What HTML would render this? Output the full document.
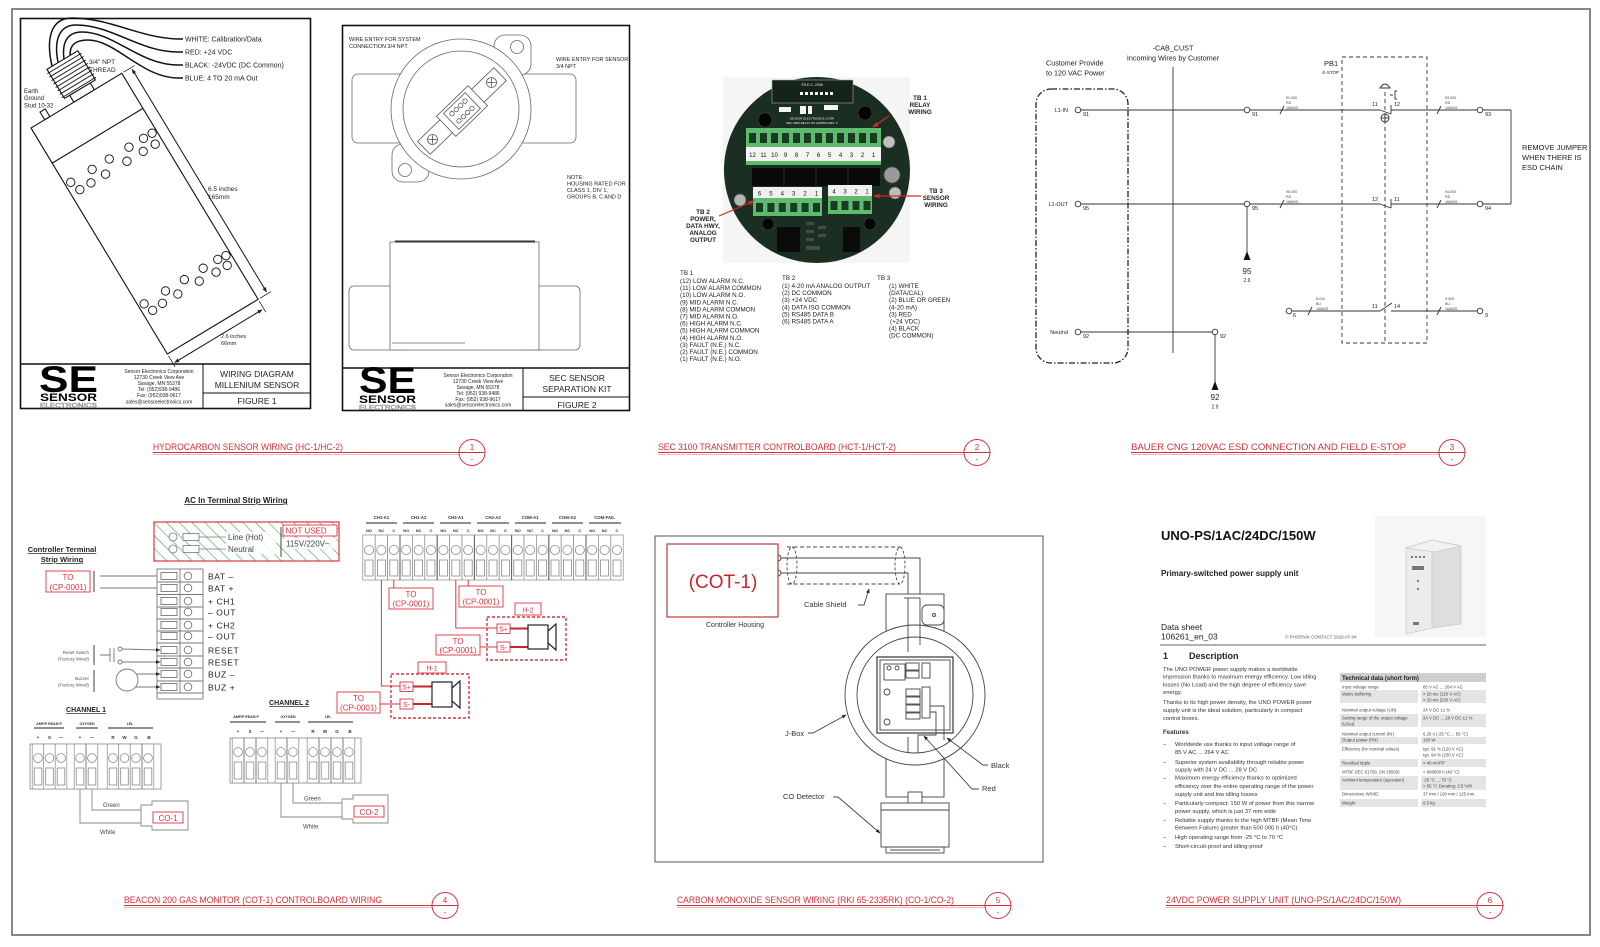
<!DOCTYPE html>
<html><head><meta charset="utf-8">
<style>
html,body{margin:0;padding:0;background:#fff;}
svg{display:block;}
text{font-family:"Liberation Sans",Arial,sans-serif;}
.serif{font-family:"Liberation Serif","Times New Roman",serif;}
</style></head><body>
<svg width="1600" height="947" viewBox="0 0 1600 947" xmlns="http://www.w3.org/2000/svg">
<defs>
<pattern id="hatch" patternUnits="userSpaceOnUse" width="9" height="9" patternTransform="rotate(-45)">
<line x1="0" y1="0" x2="0" y2="9" stroke="#3aa64a" stroke-width="1.2"/>
</pattern>
<marker id="ar" viewBox="0 0 10 10" refX="9" refY="5" markerWidth="5" markerHeight="5" orient="auto-start-reverse"><path d="M0,1 L10,5 L0,9 z" fill="#222"/></marker>
<marker id="arR" viewBox="0 0 10 10" refX="9" refY="5" markerWidth="5" markerHeight="5" orient="auto"><path d="M0,1 L10,5 L0,9 z" fill="#d42a2a"/></marker>
<g id="cell">
<rect x="-6.2" y="0" width="12.4" height="45" fill="#fff" stroke="#888" stroke-width="0.7"/>
<circle cx="0" cy="15" r="4.6" fill="none" stroke="#888" stroke-width="0.8"/>
<rect x="-4" y="25" width="8" height="16" fill="none" stroke="#888" stroke-width="0.8"/>
</g>
<g id="cell2">
<rect x="-5.8" y="0" width="11.6" height="45" fill="#fff" stroke="#888" stroke-width="0.7"/>
<circle cx="0" cy="14" r="4.4" fill="none" stroke="#888" stroke-width="0.8"/>
<rect x="-3.8" y="24" width="7.6" height="17" fill="none" stroke="#888" stroke-width="0.8"/>
</g>
</defs>

<rect x="0" y="0" width="1600" height="947" fill="#fff"/>
<rect x="12" y="9" width="1578" height="926" fill="none" stroke="#6a6a6a" stroke-width="1.6"/>

<!-- ================= PANEL 1 ================= -->
<g fill="none" stroke="#111">
<rect x="20.5" y="18.5" width="290" height="390" stroke-width="1.6"/>
<line x1="20" y1="364" x2="311" y2="364" stroke-width="1.4"/>
<line x1="203" y1="364" x2="203" y2="408"/>
<line x1="203" y1="393" x2="311" y2="393"/>
</g>
<text x="39" y="392" font-size="37" font-weight="bold" textLength="59" lengthAdjust="spacingAndGlyphs" fill="#000">SE</text>
<text x="40" y="401" font-size="11" font-weight="bold" textLength="57" lengthAdjust="spacingAndGlyphs" fill="#000">SENSOR</text>
<text x="40" y="407.5" font-size="6.5" textLength="57" lengthAdjust="spacingAndGlyphs" fill="#fff" stroke="#555" stroke-width="0.3">ELECTRONICS</text>
<g font-size="5" fill="#222" text-anchor="middle">
<text x="159" y="373">Sensor Electronics Corporation</text>
<text x="159" y="379">12730 Creek View Ave</text>
<text x="159" y="385">Savage, MN 55378</text>
<text x="159" y="391">Tel: (952)938-9486</text>
<text x="159" y="397">Fax: (952)938-9617</text>
<text x="159" y="403.5">sales@sensorelectronics.com</text>
</g>
<g font-size="8.5" fill="#222" text-anchor="middle">
<text x="257" y="377">WIRING DIAGRAM</text>
<text x="257" y="388">MILLENIUM SENSOR</text>
<text x="257" y="404">FIGURE 1</text>
</g>
<g fill="none" stroke="#111" stroke-width="1.5">
<path d="M52,66 C46,40 50,18 72,18 C110,18 140,38 178,39 H183"/>
<path d="M58,62 C54,42 58,25 76,25 C112,25 140,52 178,52 H183"/>
<path d="M64,59 C62,44 66,32 82,32 C114,32 140,65 178,65 H183"/>
<path d="M70,55 C70,46 74,40 88,40 C116,40 142,78 178,78 H183"/>
</g>
<g font-size="7" fill="#222">
<text x="185" y="41.5">WHITE: Calibration/Data</text>
<text x="185" y="54.5">RED:  +24 VDC</text>
<text x="185" y="67.5">BLACK:  -24VDC (DC Common)</text>
<text x="185" y="80.5">BLUE:  4 TO 20 mA Out</text>
</g>
<g transform="translate(31,128) rotate(-31.1)" fill="none" stroke="#111" stroke-width="1.1">
<rect x="0" y="0" width="106" height="264" fill="#fff"/>
<line x1="0" y1="41" x2="106" y2="41"/>
<rect x="50" y="-8" width="24" height="8" fill="#fff"/>
<rect x="44" y="-42" width="36" height="34" fill="#fff"/>
<g stroke-width="0.9">
<path d="M42,-38 H82 M42,-34 H82 M42,-30 H82 M42,-26 H82 M42,-22 H82 M42,-18 H82 M42,-14 H82 M42,-10 H82"/>
</g>
<rect x="16" y="-9" width="6" height="9"/>
<g stroke-width="0.9">
<circle cx="6" cy="67" r="4.2"/><circle cx="31" cy="67" r="4.2"/><circle cx="51" cy="67" r="4.2"/><circle cx="74" cy="67" r="4.2"/><circle cx="91" cy="67" r="4.2"/><circle cx="101" cy="67" r="4.2"/>
<circle cx="10" cy="78" r="4.2"/><circle cx="23" cy="78" r="4.2"/><circle cx="40" cy="78" r="4.2"/><circle cx="65" cy="78" r="4.2"/><circle cx="84" cy="78" r="4.2"/><circle cx="98" cy="78" r="4.2"/>
<circle cx="6" cy="209" r="4.2"/><circle cx="31" cy="209" r="4.2"/><circle cx="53" cy="209" r="4.2"/><circle cx="75" cy="209" r="4.2"/><circle cx="92" cy="209" r="4.2"/><circle cx="101" cy="210" r="4.2"/>
<circle cx="10" cy="219" r="4.2"/><circle cx="22" cy="218" r="4.2"/><circle cx="40" cy="218" r="4.2"/><circle cx="65" cy="218" r="4.2"/><circle cx="84" cy="219" r="4.2"/><circle cx="97" cy="219" r="4.2"/>
</g>
<line x1="117" y1="2" x2="117" y2="262" marker-start="url(#ar)" marker-end="url(#ar)" stroke-width="1"/>
<line x1="108" y1="0" x2="121" y2="0" stroke-width="0.7"/>
<line x1="108" y1="264" x2="121" y2="264" stroke-width="0.7"/>
<line x1="2" y1="275" x2="104" y2="275" marker-start="url(#ar)" marker-end="url(#ar)" stroke-width="1"/>
<line x1="0" y1="266" x2="0" y2="279" stroke-width="0.7"/>
<line x1="106" y1="266" x2="106" y2="279" stroke-width="0.7"/>
</g>
<g font-size="6.5" fill="#222">
<text x="89" y="64">3/4" NPT</text>
<text x="89" y="72">THREAD</text>
<text x="24" y="93" font-size="6">Earth</text>
<text x="24" y="100" font-size="6">Ground</text>
<text x="24" y="107.5" font-size="6">Stud 10-32</text>
<text x="208" y="191">6.5 inches</text>
<text x="208" y="199">165mm</text>
<text x="221" y="338" font-size="5.5">2.6 inches</text>
<text x="221" y="345" font-size="5.5">66mm</text>
</g>

<!-- ================= PANEL 2 ================= -->
<g fill="#fff" stroke="#666" stroke-width="0.8">
<rect x="352" y="74" width="80" height="69" rx="6"/>
<rect x="496" y="74" width="80" height="69" rx="6"/>
<rect x="494" y="35" width="37" height="40" rx="11"/>
<rect x="392" y="144" width="37" height="38" rx="11"/>
<circle cx="461" cy="109" r="70"/>
<circle cx="461" cy="109" r="58"/>
<circle cx="517" cy="47" r="6.5"/>
<circle cx="405" cy="170" r="6.5"/>
</g>
<g transform="translate(462,111) rotate(-44)" fill="#fff" stroke="#555" stroke-width="0.8">
<rect x="-53" y="-9" width="106" height="18"/>
<rect x="-22" y="-14" width="44" height="28"/>
<rect x="-15" y="-11" width="30" height="22"/>
<circle cx="-41" cy="0" r="5"/><path d="M-44,-3 L-38,3 M-44,3 L-38,-3"/>
<circle cx="41" cy="0" r="5"/><path d="M38,-3 L44,3 M38,3 L44,-3"/>
<circle cx="-9" cy="-5" r="2.2"/><circle cx="-3" cy="-5" r="2.2"/><circle cx="3" cy="-5" r="2.2"/><circle cx="9" cy="-5" r="2.2"/>
<circle cx="-9" cy="5" r="2.2"/><circle cx="-3" cy="5" r="2.2"/><circle cx="3" cy="5" r="2.2"/><circle cx="9" cy="5" r="2.2"/>
</g>
<g fill="#fff" stroke="#666" stroke-width="0.8">
<rect x="349" y="286" width="60" height="64" rx="5"/>
<rect x="520" y="286" width="60" height="64" rx="5"/>
<rect x="390" y="242" width="149" height="108"/>
<line x1="392" y1="343" x2="465" y2="343"/>
</g>
<line x1="395" y1="241.5" x2="535" y2="241.5" stroke="#333" stroke-width="2"/>
<g fill="none" stroke="#111">
<rect x="342.5" y="25.5" width="287" height="385" stroke-width="1.6"/>
<line x1="342" y1="368" x2="630" y2="368" stroke-width="1.4"/>
<line x1="523" y1="368" x2="523" y2="410"/>
<line x1="523" y1="397" x2="630" y2="397"/>
</g>
<g font-size="5.5" fill="#222">
<text x="349" y="41">WIRE ENTRY FOR SYSTEM</text>
<text x="349" y="48">CONNECTION 3/4 NPT</text>
<text x="556" y="61">WIRE ENTRY FOR SENSOR</text>
<text x="556" y="68">3/4 NPT</text>
<text x="567" y="179">NOTE:</text>
<text x="567" y="185.5">HOUSING RATED FOR</text>
<text x="567" y="192">CLASS 1, DIV 1,</text>
<text x="567" y="198.5">GROUPS B, C AND D</text>
</g>
<text x="359" y="393" font-size="37" font-weight="bold" textLength="57" lengthAdjust="spacingAndGlyphs" fill="#000">SE</text>
<text x="359" y="403" font-size="11" font-weight="bold" textLength="57" lengthAdjust="spacingAndGlyphs" fill="#000">SENSOR</text>
<text x="359" y="409.5" font-size="6.5" textLength="57" lengthAdjust="spacingAndGlyphs" fill="#fff" stroke="#555" stroke-width="0.3">ELECTRONICS</text>
<g font-size="5" fill="#222" text-anchor="middle">
<text x="478" y="377">Sensor Electronics Corporation</text>
<text x="478" y="383">12730 Creek View Ave</text>
<text x="478" y="389">Savage, MN 55378</text>
<text x="478" y="395">Tel: (952) 938-9486</text>
<text x="478" y="401">Fax: (952) 938-9617</text>
<text x="478" y="406.5">sales@sensorelectronics.com</text>
</g>
<g font-size="8.5" fill="#222" text-anchor="middle">
<text x="577" y="381">SEC SENSOR</text>
<text x="577" y="392">SEPARATION KIT</text>
<text x="577" y="408">FIGURE 2</text>
</g>

<!-- ================= PANEL 3 (board photo) ================= -->
<rect x="723" y="77" width="187" height="186" fill="#f5f5f5"/>
<circle cx="817" cy="170" r="93" fill="#1b2e22"/>
<rect x="772" y="80" width="81" height="23" fill="#14241a" stroke="#aaa" stroke-width="0.6"/>
<g fill="#f4f4f4">
<rect x="800" y="92" width="3" height="3"/><rect x="805" y="92" width="3" height="3"/><rect x="810" y="92" width="3" height="3"/><rect x="815" y="92" width="3" height="3"/><rect x="820" y="92" width="3" height="3"/><rect x="825" y="92" width="3" height="3"/><rect x="830" y="92" width="3" height="3"/>
<rect x="779" y="107" width="12" height="5"/><rect x="824" y="105" width="14" height="5"/><rect x="800" y="106" width="6" height="8"/><rect x="808" y="106" width="4" height="8"/>
</g>
<g fill="#eee" font-size="3.5" text-anchor="middle">
<text x="812" y="86">©S.E.C. 2008</text>
<text x="812" y="119.5" font-size="3">SENSOR ELECTRONICS CORP.</text>
<text x="812" y="124" font-size="3">SEC 3000 RELAY PN 1402503 REV. F</text>
</g>
<g fill="#050505" stroke="#444" stroke-width="0.6">
<circle cx="765" cy="120" r="7"/><circle cx="865" cy="113" r="7"/><circle cx="768" cy="224" r="6"/><circle cx="870" cy="224" r="6"/>
</g>
<rect x="746" y="128" width="135" height="19" fill="#5dbb6e"/>
<g fill="#1a3a22">
<rect x="749" y="133" width="7" height="10"/><rect x="760" y="133" width="7" height="10"/><rect x="771" y="133" width="7" height="10"/><rect x="782" y="133" width="7" height="10"/><rect x="793" y="133" width="7" height="10"/><rect x="804" y="133" width="7" height="10"/><rect x="815" y="133" width="7" height="10"/><rect x="826" y="133" width="7" height="10"/><rect x="837" y="133" width="7" height="10"/><rect x="848" y="133" width="7" height="10"/><rect x="859" y="133" width="7" height="10"/><rect x="870" y="133" width="7" height="10"/>
</g>
<rect x="746" y="147" width="135" height="14" fill="#f4f4f4"/>
<rect x="746" y="161" width="135" height="4" fill="#5dbb6e"/>
<g font-size="6" fill="#111" text-anchor="middle">
<text x="752.5" y="157">12</text><text x="763.5" y="157">11</text><text x="774.5" y="157">10</text><text x="785.5" y="157">9</text><text x="796.5" y="157">8</text><text x="807.5" y="157">7</text><text x="818.5" y="157">6</text><text x="829.5" y="157">5</text><text x="840.5" y="157">4</text><text x="851.5" y="157">3</text><text x="862.5" y="157">2</text><text x="873.5" y="157">1</text>
</g>
<rect x="752" y="168" width="128" height="18" fill="#0a0a0a"/>
<g stroke="#2a2a2a" stroke-width="1"><line x1="784" y1="168" x2="784" y2="186"/><line x1="816" y1="168" x2="816" y2="186"/><line x1="848" y1="168" x2="848" y2="186"/></g>
<g stroke="#555" stroke-width="0.7">
<circle cx="740" cy="200" r="6" fill="#b5b5b5"/><circle cx="889" cy="142" r="6" fill="#c0c0c0"/><circle cx="895" cy="193" r="6" fill="#bdbdbd"/><circle cx="892" cy="175" r="8" fill="#9a9a9a"/>
</g>
<rect x="753" y="187" width="69" height="11" fill="#f0f0f0"/>
<rect x="753" y="198" width="69" height="18" fill="#5dbb6e"/>
<rect x="828" y="185" width="44" height="11" fill="#f0f0f0"/>
<rect x="828" y="196" width="44" height="18" fill="#5dbb6e"/>
<g fill="#1a3a22">
<rect x="756" y="203" width="7" height="9"/><rect x="767.4" y="203" width="7" height="9"/><rect x="778.8" y="203" width="7" height="9"/><rect x="790.2" y="203" width="7" height="9"/><rect x="801.6" y="203" width="7" height="9"/><rect x="813" y="203" width="7" height="9"/>
<rect x="830.5" y="201" width="7" height="9"/><rect x="841.5" y="201" width="7" height="9"/><rect x="852.5" y="201" width="7" height="9"/><rect x="863.5" y="201" width="7" height="9"/>
</g>
<g font-size="6" fill="#111" text-anchor="middle">
<text x="759.5" y="195.5">6</text><text x="770.9" y="195.5">5</text><text x="782.3" y="195.5">4</text><text x="793.7" y="195.5">3</text><text x="805.1" y="195.5">2</text><text x="816.5" y="195.5">1</text>
<text x="834" y="193.5">4</text><text x="845" y="193.5">3</text><text x="856" y="193.5">2</text><text x="867" y="193.5">1</text>
</g>
<rect x="777" y="227" width="23" height="25" fill="#0b0b0b"/>
<rect x="843" y="227" width="17" height="25" fill="#0b0b0b"/>
<g fill="#4a4a4a"><rect x="806" y="222" width="8" height="3"/><rect x="806" y="230" width="8" height="3"/><rect x="806" y="238" width="8" height="3"/><rect x="818" y="226" width="8" height="3"/><rect x="818" y="234" width="8" height="3"/><rect x="806" y="246" width="14" height="4"/></g>
<g stroke="#d42a2a" stroke-width="1.2" fill="none">
<line x1="889" y1="116" x2="873" y2="127" marker-end="url(#arR)"/>
<line x1="921" y1="196" x2="874" y2="196" marker-end="url(#arR)"/>
<line x1="719" y1="216" x2="754" y2="201" marker-end="url(#arR)"/>
</g>
<g class="serif" font-size="6.3" font-weight="bold" fill="#222" text-anchor="middle">
<text x="920" y="100">TB 1</text><text x="920" y="107">RELAY</text><text x="920" y="114">WIRING</text>
<text x="936" y="193">TB 3</text><text x="936" y="200">SENSOR</text><text x="936" y="207">WIRING</text>
<text x="703" y="214">TB 2</text><text x="703" y="221">POWER,</text><text x="703" y="228">DATA HWY,</text><text x="703" y="235">ANALOG</text><text x="703" y="242">OUTPUT</text>
</g>
<g class="serif" font-size="6.3" fill="#222">
<text x="680" y="275">TB 1</text>
<text x="680" y="283">(12) LOW ALARM N.C.</text>
<text x="680" y="290.1">(11) LOW ALARM COMMON</text>
<text x="680" y="297.2">(10) LOW ALARM N.O.</text>
<text x="680" y="304.3">(9) MID ALARM N.C.</text>
<text x="680" y="311.4">(8) MID ALARM COMMON</text>
<text x="680" y="318.5">(7) MID ALARM N.O.</text>
<text x="680" y="325.6">(6) HIGH ALARM N.C.</text>
<text x="680" y="332.7">(5) HIGH ALARM COMMON</text>
<text x="680" y="339.8">(4) HIGH ALARM N.O.</text>
<text x="680" y="346.9">(3) FAULT (N.E.) N.C.</text>
<text x="680" y="354">(2) FAULT (N.E.) COMMON</text>
<text x="680" y="361.1">(1) FAULT (N.E.) N.O.</text>
<text x="782" y="280">TB 2</text>
<text x="782" y="288">(1) 4-20 mA ANALOG OUTPUT</text>
<text x="782" y="295.1">(2) DC COMMON</text>
<text x="782" y="302.2">(3) +24 VDC</text>
<text x="782" y="309.3">(4) DATA ISO COMMON</text>
<text x="782" y="316.4">(5) RS485 DATA B</text>
<text x="782" y="323.5">(6) RS485 DATA A</text>
<text x="877" y="280">TB 3</text>
<text x="889" y="288">(1) WHITE</text>
<text x="889" y="295.1">(DATA/CAL)</text>
<text x="889" y="302.2">(2) BLUE OR GREEN</text>
<text x="889" y="309.3">(4-20 mA)</text>
<text x="889" y="316.4">(3) RED</text>
<text x="890" y="323.5">(+24 VDC)</text>
<text x="889" y="330.6">(4) BLACK</text>
<text x="889" y="337.7">(DC COMMON)</text>
</g>

<!-- ================= PANEL 4 (Bauer) ================= -->
<g font-size="7.2" fill="#222">
<text x="1046" y="65.5">Customer Provide</text>
<text x="1046" y="75.5">to 120 VAC Power</text>
<text x="1173" y="50.5" text-anchor="middle">-CAB_CUST</text>
<text x="1173" y="60.5" text-anchor="middle">Incoming Wires by Customer</text>
<text x="1324" y="66" font-size="7.5">PB1</text>
<text x="1339" y="74" font-size="4.5" text-anchor="end">E-STOP</text>
<text x="1522" y="150" font-size="7.5">REMOVE JUMPER</text>
<text x="1522" y="160" font-size="7.5">WHEN THERE IS</text>
<text x="1522" y="170" font-size="7.5">ESD CHAIN</text>
</g>
<line x1="1173" y1="67" x2="1173" y2="353" stroke="#333" stroke-width="0.9"/>
<rect x="1036" y="89" width="92" height="274" rx="15" fill="none" stroke="#222" stroke-width="1.3" stroke-dasharray="6,2,1.5,2"/>
<rect x="1342" y="57" width="85" height="286" fill="none" stroke="#333" stroke-width="0.9" stroke-dasharray="4,3"/>
<line x1="1385" y1="92" x2="1385" y2="343" stroke="#333" stroke-width="0.9" stroke-dasharray="4,3"/>
<g fill="none" stroke="#333" stroke-width="0.9">
<path d="M1380,88 Q1385,80 1390,88 Z"/>
<path d="M1390,95 h3 M1397,91 h-2 v8 h2"/>
<circle cx="1385" cy="118" r="4"/><line x1="1381" y1="118" x2="1389" y2="118"/><line x1="1385" y1="114" x2="1385" y2="122"/>
<line x1="1081" y1="110" x2="1244" y2="110"/>
<line x1="1250" y1="110" x2="1380" y2="110"/>
<path d="M1380,110 L1391,114 M1391,105 V114"/>
<line x1="1391" y1="110" x2="1477" y2="110"/>
<line x1="1483" y1="110" x2="1511" y2="110"/>
<line x1="1511" y1="110" x2="1511" y2="204"/>
<path d="M1280,114 L1284,106 M1437,114 L1441,106"/>
<line x1="1081" y1="204" x2="1244" y2="204"/>
<line x1="1250" y1="204" x2="1380" y2="204"/>
<path d="M1380,204 L1391,208 M1391,199 V208"/>
<line x1="1391" y1="204" x2="1477" y2="204"/>
<line x1="1483" y1="204" x2="1511" y2="204"/>
<path d="M1280,208 L1284,200 M1437,208 L1441,200"/>
<line x1="1247" y1="207" x2="1247" y2="260"/>
<line x1="1292" y1="311" x2="1380" y2="311"/>
<path d="M1380,311 L1392,303"/>
<line x1="1391" y1="311" x2="1477" y2="311"/>
<path d="M1308,315 L1312,307 M1437,315 L1441,307"/>
<line x1="1081" y1="332" x2="1212" y2="332"/>
<line x1="1215" y1="335" x2="1215" y2="390"/>
<circle cx="1078" cy="110" r="2.8"/><circle cx="1247" cy="110" r="2.8"/><circle cx="1480" cy="110" r="2.8"/>
<circle cx="1078" cy="204" r="2.8"/><circle cx="1247" cy="204" r="2.8"/><circle cx="1480" cy="204" r="2.8"/>
<circle cx="1289" cy="311" r="2.8"/><circle cx="1480" cy="311" r="2.8"/>
<circle cx="1078" cy="332" r="2.8"/><circle cx="1215" cy="332" r="2.8"/>
</g>
<path d="M1247,251 L1243.5,260 L1250.5,260 Z" fill="#111"/>
<path d="M1215,381 L1211.5,390 L1218.5,390 Z" fill="#111"/>
<g font-size="5.5" fill="#222">
<text x="1068" y="112" text-anchor="end">L1-IN</text>
<text x="1068" y="206" text-anchor="end">L1-OUT</text>
<text x="1068" y="334" text-anchor="end">Neutral</text>
<text x="1083" y="116">91</text><text x="1252" y="116">91</text><text x="1485" y="116">93</text>
<text x="1083" y="210">95</text><text x="1252" y="210">95</text><text x="1485" y="210">94</text>
<text x="1293" y="317">6</text><text x="1485" y="317">9</text>
<text x="1083" y="338">92</text><text x="1220" y="338">92</text>
<text x="1372" y="106">11</text><text x="1394" y="106">12</text>
<text x="1372" y="201">12</text><text x="1394" y="201">11</text>
<text x="1372" y="308">11</text><text x="1394" y="308">14</text>
<text x="1247" y="274" font-size="8" text-anchor="middle">95</text>
<text x="1247" y="282" text-anchor="middle" font-size="5">2.9</text>
<text x="1215" y="400" font-size="8" text-anchor="middle">92</text>
<text x="1215" y="408.5" text-anchor="middle" font-size="5">2.9</text>
</g>
<g font-size="3.6" fill="#444">
<text x="1286" y="99">91-000</text><text x="1286" y="104">RD</text><text x="1286" y="109">16AWG</text>
<text x="1445" y="99">93-000</text><text x="1445" y="104">RD</text><text x="1445" y="109">16AWG</text>
<text x="1286" y="193">95-000</text><text x="1286" y="198">RD</text><text x="1286" y="203">16AWG</text>
<text x="1445" y="193">94-000</text><text x="1445" y="198">RD</text><text x="1445" y="203">16AWG</text>
<text x="1316" y="300">6-020</text><text x="1316" y="305">BU</text><text x="1316" y="310">16AWG</text>
<text x="1445" y="300">9-000</text><text x="1445" y="305">BU</text><text x="1445" y="310">16AWG</text>
</g>

<!-- ================= PANEL 5 (Beacon) ================= -->
<text x="236" y="503" font-size="8" font-weight="bold" text-anchor="middle" fill="#222" text-decoration="underline">AC In Terminal Strip Wiring</text>
<rect x="154" y="522" width="185" height="39" fill="url(#hatch)" stroke="#d9363e" stroke-width="1.2"/>
<g fill="#fff" stroke="#777" stroke-width="0.8">
<circle cx="173" cy="537" r="4"/><circle cx="173" cy="549" r="4"/>
<rect x="183" y="533.5" width="16" height="7"/><rect x="183" y="545.5" width="16" height="7"/>
</g>
<g stroke="#777" stroke-width="0.8"><line x1="199" y1="537" x2="226" y2="537"/><line x1="199" y1="549" x2="226" y2="549"/></g>
<rect x="226" y="532" width="50" height="22" fill="#fff" fill-opacity="0.85"/>
<line x1="281" y1="527" x2="281" y2="557" stroke="#444" stroke-width="1"/>
<rect x="283" y="525" width="54" height="11" fill="#fff" stroke="#d9363e" stroke-width="0.9"/>
<rect x="284" y="538" width="52" height="11" fill="#fff" fill-opacity="0.85"/>
<g font-size="8" fill="#444">
<text x="228" y="540">Line (Hot)</text>
<text x="228" y="552">Neutral</text>
<text x="286" y="546.5">115V/220V~</text>
</g>
<text x="285.5" y="533.5" font-size="8" fill="#d9363e">NOT USED</text>
<text x="62" y="552" font-size="7.5" font-weight="bold" text-anchor="middle" fill="#222" text-decoration="underline">Controller Terminal</text>
<text x="62" y="562" font-size="7.5" font-weight="bold" text-anchor="middle" fill="#222" text-decoration="underline">Strip Wiring</text>
<rect x="46" y="571" width="44" height="21" fill="#fff" stroke="#d9363e" stroke-width="0.9"/>
<g font-size="8" fill="#d9363e" text-anchor="middle"><text x="68" y="580">TO</text><text x="68" y="590">(CP-0001)</text></g>
<g stroke="#777" stroke-width="0.9" fill="none">
<line x1="94" y1="571" x2="94" y2="592" stroke-width="1.4"/>
<line x1="100" y1="576" x2="161" y2="576"/><line x1="100" y1="588" x2="161" y2="588"/>
<rect x="157" y="569" width="46" height="130" fill="#fff"/>
<line x1="180" y1="569" x2="180" y2="693"/>
<path d="M157,582 H203 M157,594.5 H203 M157,607 H203 M157,619 H203 M157,631 H203 M157,643 H203 M157,656 H203 M157,668 H203 M157,681 H203 M157,693 H203"/>
<rect x="161" y="572.5" width="16" height="7"/><circle cx="188" cy="576" r="3.8"/>
<rect x="161" y="584.5" width="16" height="7"/><circle cx="188" cy="588" r="3.8"/>
<rect x="161" y="597.5" width="16" height="7"/><circle cx="188" cy="601" r="3.8"/>
<rect x="161" y="608.5" width="16" height="7"/><circle cx="188" cy="612" r="3.8"/>
<rect x="161" y="621.5" width="16" height="7"/><circle cx="188" cy="625" r="3.8"/>
<rect x="161" y="632.5" width="16" height="7"/><circle cx="188" cy="636" r="3.8"/>
<rect x="161" y="646.5" width="16" height="7"/><circle cx="188" cy="650" r="3.8"/>
<rect x="161" y="658.5" width="16" height="7"/><circle cx="188" cy="662" r="3.8"/>
<rect x="161" y="670.5" width="16" height="7"/><circle cx="188" cy="674" r="3.8"/>
<rect x="161" y="683.5" width="16" height="7"/><circle cx="188" cy="687" r="3.8"/>
<line x1="94" y1="645" x2="94" y2="665" stroke-width="1.4"/>
<path d="M100,655 H110 M110,648 V662 M114,648 V662"/>
<circle cx="120" cy="649" r="2"/><circle cx="120" cy="662" r="2"/>
<line x1="122" y1="649" x2="160" y2="650" marker-end="url(#ar)"/>
<line x1="122" y1="662" x2="160" y2="662" marker-end="url(#ar)"/>
<line x1="94" y1="670" x2="94" y2="692" stroke-width="1.4"/>
<circle cx="127" cy="680" r="11"/>
<line x1="136" y1="674" x2="160" y2="674" marker-end="url(#ar)"/>
<line x1="136" y1="687" x2="160" y2="687" marker-end="url(#ar)"/>
</g>
<g font-size="8.5" fill="#222" letter-spacing="0.6">
<text x="208" y="579.5">BAT  –</text><text x="208" y="591.5">BAT +</text>
<text x="208" y="604.5">+  CH1</text><text x="208" y="615.5">–  OUT</text>
<text x="208" y="628.5">+  CH2</text><text x="208" y="639.5">–  OUT</text>
<text x="208" y="653.5">RESET</text><text x="208" y="665.5">RESET</text>
<text x="208" y="677.5">BUZ  –</text><text x="208" y="690.5">BUZ +</text>
</g>
<g font-size="4.5" fill="#555" text-anchor="end">
<text x="89" y="654">Reset Switch</text><text x="89" y="660.5">(Factory Wired)</text>
<text x="89" y="680">Buzzer</text><text x="89" y="686.5">(Factory Wired)</text>
</g>
<text x="86" y="712" font-size="7" font-weight="bold" text-anchor="middle" fill="#222" text-decoration="underline">CHANNEL 1</text>
<g font-size="3.5" font-weight="bold" fill="#333" text-anchor="middle">
<text x="49" y="725">AMP/P REAM P</text><text x="87" y="725">OXYGEN</text><text x="130" y="725">LEL</text>
</g>
<g stroke="#222" stroke-width="0.9"><line x1="34" y1="728" x2="64" y2="728"/><line x1="76" y1="728" x2="98" y2="728"/><line x1="108" y1="728" x2="153" y2="728"/></g>
<g font-size="4.5" font-weight="bold" fill="#333" text-anchor="middle">
<text x="38" y="739">+</text><text x="49.5" y="739">S</text><text x="61" y="739">—</text><text x="80" y="739">+</text><text x="92" y="739">—</text><text x="113" y="739">R</text><text x="124.5" y="739">W</text><text x="136" y="739">G</text><text x="149" y="739">B</text>
</g>
<rect x="30" y="744" width="131" height="45" fill="#fff" stroke="#888" stroke-width="0.8"/>
<use href="#cell2" x="38" y="744"/><use href="#cell2" x="49.5" y="744"/><use href="#cell2" x="61" y="744"/>
<use href="#cell2" x="80" y="744"/><use href="#cell2" x="92" y="744"/>
<use href="#cell2" x="113" y="744"/><use href="#cell2" x="124.5" y="744"/><use href="#cell2" x="136" y="744"/><use href="#cell2" x="148" y="744"/>
<g fill="none" stroke="#888" stroke-width="0.9">
<path d="M80,789 V823 H141 M92,789 V810 H141"/>
<path d="M141,805 H152 V801 H188 V830 H152 V826 H141 Z" fill="#fff"/>
</g>
<rect x="153" y="812" width="30" height="11" fill="#fff" stroke="#d9363e" stroke-width="0.9"/>
<text x="168" y="821" font-size="8" fill="#d9363e" text-anchor="middle">CO-1</text>
<g font-size="6" fill="#444"><text x="103" y="807">Green</text><text x="100" y="834">White</text></g>
<text x="289" y="705" font-size="7" font-weight="bold" text-anchor="middle" fill="#222" text-decoration="underline">CHANNEL 2</text>
<g font-size="3.5" font-weight="bold" fill="#333" text-anchor="middle">
<text x="246" y="718">AMP/P REAM P</text><text x="288" y="718">OXYGEN</text><text x="328" y="718">LEL</text>
</g>
<g stroke="#222" stroke-width="0.9"><line x1="230" y1="722" x2="266" y2="722"/><line x1="275" y1="722" x2="300" y2="722"/><line x1="308" y1="722" x2="353" y2="722"/></g>
<g font-size="4.5" font-weight="bold" fill="#333" text-anchor="middle">
<text x="238" y="733">+</text><text x="250" y="733">S</text><text x="262" y="733">—</text><text x="281" y="733">+</text><text x="293" y="733">—</text><text x="313" y="733">R</text><text x="325" y="733">W</text><text x="337" y="733">G</text><text x="350" y="733">B</text>
</g>
<rect x="230" y="738" width="131" height="45" fill="#fff" stroke="#888" stroke-width="0.8"/>
<use href="#cell2" x="238" y="738"/><use href="#cell2" x="250" y="738"/><use href="#cell2" x="262" y="738"/>
<use href="#cell2" x="281" y="738"/><use href="#cell2" x="293" y="738"/>
<use href="#cell2" x="313" y="738"/><use href="#cell2" x="325" y="738"/><use href="#cell2" x="337" y="738"/><use href="#cell2" x="349" y="738"/>
<g fill="none" stroke="#888" stroke-width="0.9">
<path d="M281,783 V817 H342 M293,783 V803 H342"/>
<path d="M342,799 H353 V795 H388 V823 H353 V819 H342 Z" fill="#fff"/>
</g>
<rect x="354" y="806" width="30" height="11" fill="#fff" stroke="#d9363e" stroke-width="0.9"/>
<text x="369" y="815" font-size="8" fill="#d9363e" text-anchor="middle">CO-2</text>
<g font-size="6" fill="#444"><text x="304" y="800.5">Green</text><text x="303" y="828.5">White</text></g>
<g font-size="4.3" font-weight="bold" fill="#333" text-anchor="middle">
<text x="381.4" y="519">CH1-A1</text><text x="418.6" y="519">CH1-A2</text><text x="455.8" y="519">CH2-A1</text><text x="493" y="519">CH2-A2</text><text x="530.2" y="519">COM-A1</text><text x="567.4" y="519">COM-A2</text><text x="604.6" y="519">COM-FAIL</text>
</g>
<g stroke="#222" stroke-width="0.9">
<line x1="366" y1="523" x2="397" y2="523"/><line x1="403" y1="523" x2="434" y2="523"/><line x1="440" y1="523" x2="471" y2="523"/><line x1="477" y1="523" x2="509" y2="523"/><line x1="515" y1="523" x2="546" y2="523"/><line x1="552" y1="523" x2="583" y2="523"/><line x1="589" y1="523" x2="621" y2="523"/>
</g>
<g font-size="4" font-weight="bold" fill="#333" text-anchor="middle">
<text x="369" y="532">NO</text><text x="381.4" y="532">NC</text><text x="393.8" y="532">C</text>
<text x="406.2" y="532">NO</text><text x="418.6" y="532">NC</text><text x="431" y="532">C</text>
<text x="443.4" y="532">NO</text><text x="455.8" y="532">NC</text><text x="468.2" y="532">C</text>
<text x="480.6" y="532">NO</text><text x="493" y="532">NC</text><text x="505.4" y="532">C</text>
<text x="517.8" y="532">NO</text><text x="530.2" y="532">NC</text><text x="542.6" y="532">C</text>
<text x="555" y="532">NO</text><text x="567.4" y="532">NC</text><text x="579.8" y="532">C</text>
<text x="592.2" y="532">NO</text><text x="604.6" y="532">NC</text><text x="617" y="532">C</text>
</g>
<use href="#cell" x="369" y="535"/><use href="#cell" x="381.4" y="535"/><use href="#cell" x="393.8" y="535"/>
<use href="#cell" x="406.2" y="535"/><use href="#cell" x="418.6" y="535"/><use href="#cell" x="431" y="535"/>
<use href="#cell" x="443.4" y="535"/><use href="#cell" x="455.8" y="535"/><use href="#cell" x="468.2" y="535"/>
<use href="#cell" x="480.6" y="535"/><use href="#cell" x="493" y="535"/><use href="#cell" x="505.4" y="535"/>
<use href="#cell" x="517.8" y="535"/><use href="#cell" x="530.2" y="535"/><use href="#cell" x="542.6" y="535"/>
<use href="#cell" x="555" y="535"/><use href="#cell" x="567.4" y="535"/><use href="#cell" x="579.8" y="535"/>
<use href="#cell" x="592.2" y="535"/><use href="#cell" x="604.6" y="535"/><use href="#cell" x="617" y="535"/>
<g stroke="#666" stroke-width="1.1"><line x1="400" y1="535" x2="400" y2="580"/><line x1="437.2" y1="535" x2="437.2" y2="580"/><line x1="474.4" y1="535" x2="474.4" y2="580"/><line x1="511.6" y1="535" x2="511.6" y2="580"/><line x1="548.8" y1="535" x2="548.8" y2="580"/><line x1="586" y1="535" x2="586" y2="580"/></g>
<g fill="none" stroke="#d9363e" stroke-width="1">
<path d="M381.4,580 V686 H400"/>
<path d="M393.8,580 V588"/>
<path d="M455.8,580 V628 H497"/>
<path d="M468.2,580 V586"/>
<path d="M480,647 H497"/>
<path d="M380,704 H400"/>
</g>
<g fill="#fff" stroke="#d9363e" stroke-width="0.9">
<rect x="389" y="588" width="44" height="21"/>
<rect x="459" y="586" width="44" height="21"/>
<rect x="436" y="635" width="44" height="20"/>
<rect x="337" y="692" width="43" height="21"/>
</g>
<g font-size="8" fill="#d9363e" text-anchor="middle">
<text x="411" y="597">TO</text><text x="411" y="606.5">(CP-0001)</text>
<text x="481" y="595">TO</text><text x="481" y="604.5">(CP-0001)</text>
<text x="458" y="644">TO</text><text x="458" y="653">(CP-0001)</text>
<text x="358.5" y="701">TO</text><text x="358.5" y="710.5">(CP-0001)</text>
</g>
<rect x="487" y="617" width="79" height="43" fill="none" stroke="#d9363e" stroke-width="1.4" stroke-dasharray="3,2"/>
<rect x="391" y="674" width="78" height="44" fill="none" stroke="#d9363e" stroke-width="1.4" stroke-dasharray="3,2"/>
<g fill="#fff" stroke="#d9363e" stroke-width="0.9">
<rect x="515" y="603" width="26" height="12"/>
<rect x="497" y="624" width="13" height="9.5"/><rect x="497" y="642" width="13" height="10"/>
<rect x="418" y="662" width="28" height="11"/>
<rect x="400" y="682" width="13" height="9.5"/><rect x="400" y="699" width="13" height="10"/>
</g>
<g stroke="#c0272f" stroke-width="2">
<line x1="510" y1="628.5" x2="528" y2="628.5"/><line x1="510" y1="647" x2="528" y2="647"/>
<line x1="413" y1="686.5" x2="432" y2="686.5"/><line x1="413" y1="704" x2="432" y2="704"/>
</g>
<g fill="#fff" stroke="#222" stroke-width="1.2">
<rect x="528" y="625" width="20" height="24"/><path d="M548,631 L556,624 V650 L548,643 Z"/>
<rect x="432" y="682" width="20" height="25"/><path d="M452,688 L460,681 V708 L452,701 Z"/>
</g>
<g font-size="7" fill="#d9363e" text-anchor="middle">
<text x="528" y="612.5">H-2</text><text x="503.5" y="631.5">S+</text><text x="503.5" y="650">S-</text>
<text x="432" y="670.5">H-1</text><text x="406.5" y="689.5">S+</text><text x="406.5" y="707">S-</text>
</g>

<!-- ================= PANEL 6 (CO sensor) ================= -->
<rect x="655" y="536" width="388" height="326" fill="none" stroke="#555" stroke-width="1"/>
<rect x="667" y="544" width="111" height="73" fill="#fff" stroke="#b83a3a" stroke-width="1.2"/>
<text x="723" y="588" font-size="19" fill="#c8262c" text-anchor="middle">(COT-1)</text>
<text x="706" y="627" font-size="7" fill="#333">Controller Housing</text>
<g fill="none" stroke="#444" stroke-width="0.9">
<path d="M778,555 a3,3 0 0 1 0,6 M778,570 a3,3 0 0 1 0,6"/>
<path d="M781,558 H920 V645 H933 V664"/>
<path d="M781,573 H908 V652 H940 V672"/>
<path d="M787,547 H900 M787,584 H900" stroke-dasharray="4,2.5"/>
<ellipse cx="792" cy="565.5" rx="5" ry="18.5" stroke-dasharray="3,2"/>
<ellipse cx="900" cy="565.5" rx="5" ry="18.5" stroke-dasharray="3,2"/>
<path d="M858,605 H864 L869,589" marker-end="url(#ar)"/>
<rect x="886" y="594" width="58" height="40" fill="#fff"/>
<line x1="904" y1="598" x2="920" y2="598"/>
<rect x="922" y="605" width="22" height="20" rx="5" fill="#fff"/>
<circle cx="934" cy="615" r="1.5"/>
<rect x="886" y="755" width="58" height="42" fill="#fff"/>
<rect x="908" y="792" width="14" height="11" fill="#fff"/>
<circle cx="915" cy="695" r="70" fill="#fff"/>
<circle cx="915" cy="695" r="58"/>
<line x1="908" y1="598" x2="908" y2="652"/>
<line x1="920" y1="598" x2="920" y2="645"/>
<rect x="877" y="657" width="76" height="76" stroke-width="1.3"/>
<rect x="880" y="660" width="70" height="70"/>
<rect x="884" y="664" width="21" height="16"/>
<circle cx="889" cy="668" r="2"/><circle cx="897" cy="668" r="2"/>
<rect x="906" y="663" width="13" height="7"/><rect x="906" y="671" width="13" height="7"/>
<rect x="922" y="663" width="8" height="15"/>
<rect x="906" y="689" width="14" height="7"/><rect x="906" y="697" width="14" height="7"/><rect x="906" y="705" width="14" height="7"/><rect x="906" y="713" width="14" height="6"/>
<rect x="922" y="687" width="8" height="31"/>
<circle cx="887" cy="692" r="3"/><circle cx="887" cy="722" r="3"/>
<path d="M930,706 H944 V740"/>
<path d="M930,712 H936 V735 H918 V753"/>
<path d="M908,737 V753"/>
<rect x="881" y="803" width="68" height="44" fill="#fff"/>
<line x1="881" y1="810" x2="949" y2="810"/>
<rect x="886" y="847" width="58" height="6"/>
<line x1="890" y1="850" x2="940" y2="850"/>
<path d="M808,733 H813 L846,715" marker-end="url(#ar)"/>
<path d="M988,765 H983 L947,738" marker-end="url(#ar)"/>
<path d="M979,789 H972 L924,736" marker-end="url(#ar)"/>
<path d="M833,797 H838 L880,833" marker-end="url(#ar)"/>
</g>
<g font-size="7.5" fill="#333">
<text x="804" y="607">Cable Shield</text>
<text x="785" y="736">J-Box</text>
<text x="991" y="768">Black</text>
<text x="982" y="791">Red</text>
<text x="783" y="799">CO Detector</text>
</g>

<!-- ================= PANEL 7 (UNO-PS) ================= -->
<text x="1161" y="540" font-size="13" font-weight="bold" fill="#111">UNO-PS/1AC/24DC/150W</text>
<text x="1161" y="576" font-size="8" font-weight="bold" fill="#222">Primary-switched power supply unit</text>
<rect x="1375" y="516" width="111" height="121" fill="#f6f6f6"/>
<g stroke="#c8c8c8" stroke-width="0.7">
<path d="M1406,548 L1432,540 L1432,628 L1406,634 Z" fill="#ececec"/>
<path d="M1432,540 L1461,546 L1461,624 L1432,628 Z" fill="#dedede"/>
<path d="M1406,548 L1432,540 L1461,546 L1435,552 Z" fill="#f2f2f2"/>
</g>
<g fill="#777"><rect x="1411" y="556" width="2" height="2"/><rect x="1415" y="556" width="2" height="2"/><rect x="1419" y="556" width="2" height="2"/><rect x="1423" y="556" width="2" height="2"/><rect x="1412" y="566" width="12" height="4"/><rect x="1417" y="580" width="2" height="2"/><rect x="1417" y="588" width="2" height="2"/><rect x="1413" y="622" width="6" height="3"/></g>
<text x="1161" y="630" font-size="8.5" fill="#222">Data sheet</text>
<text x="1161" y="639.5" font-size="8.5" fill="#222">106261_en_03</text>
<text x="1285" y="638.5" font-size="4.5" fill="#555">© PHOENIX CONTACT  2018-07-04</text>
<line x1="1160" y1="645" x2="1486" y2="645" stroke="#666" stroke-width="1"/>
<text x="1163" y="659" font-size="9" font-weight="bold" fill="#222">1</text>
<text x="1189" y="659" font-size="9" font-weight="bold" fill="#222">Description</text>
<g font-size="5.8" fill="#333">
<text x="1163" y="671">The UNO POWER power supply makes a worldwide</text>
<text x="1163" y="678.5">impression thanks to maximum energy efficiency. Low idling</text>
<text x="1163" y="686.5">losses (No Load) and the high degree of efficiency save</text>
<text x="1163" y="694">energy.</text>
<text x="1163" y="704">Thanks to its high power density, the UNO POWER power</text>
<text x="1163" y="712">supply unit is the ideal solution, particularly in compact</text>
<text x="1163" y="720">control boxes.</text>
<text x="1163" y="734" font-weight="bold" font-size="6.2">Features</text>
<text x="1163" y="746">–</text><text x="1175" y="746">Worldwide use thanks to input voltage range of</text>
<text x="1175" y="754">85 V AC ... 264 V AC</text>
<text x="1163" y="764">–</text><text x="1175" y="764">Superior system availability through reliable power</text>
<text x="1175" y="771.5">supply with 24 V DC ... 28 V DC</text>
<text x="1163" y="779.5">–</text><text x="1175" y="779.5">Maximum energy efficiency thanks to optimized</text>
<text x="1175" y="788">efficiency over the entire operating range of the power</text>
<text x="1175" y="796">supply unit and low idling losses</text>
<text x="1163" y="805">–</text><text x="1175" y="805">Particularly compact: 150 W of power from this narrow</text>
<text x="1175" y="813">power supply, which is just 37 mm wide</text>
<text x="1163" y="822">–</text><text x="1175" y="822">Reliable supply thanks to the high MTBF (Mean Time</text>
<text x="1175" y="829.5">Between Failure) greater than 500 000 h (40°C)</text>
<text x="1163" y="839">–</text><text x="1175" y="839">High operating range from -25 °C to 70 °C</text>
<text x="1163" y="848">–</text><text x="1175" y="848">Short-circuit-proof and idling-proof</text>
</g>
<rect x="1340" y="673" width="146" height="9" fill="#cfcfcf"/>
<text x="1342" y="680" font-size="6" font-weight="bold" fill="#222">Technical data (short form)</text>
<g fill="#e4e4e4">
<rect x="1340" y="690" width="78" height="13"/><rect x="1421" y="690" width="65" height="13"/>
<rect x="1340" y="714" width="78" height="13"/><rect x="1421" y="714" width="65" height="13"/>
<rect x="1340" y="737" width="78" height="7"/><rect x="1421" y="737" width="65" height="7"/>
<rect x="1340" y="759" width="78" height="8"/><rect x="1421" y="759" width="65" height="8"/>
<rect x="1340" y="776" width="78" height="14"/><rect x="1421" y="776" width="65" height="14"/>
<rect x="1340" y="799" width="78" height="8"/><rect x="1421" y="799" width="65" height="8"/>
</g>
<g font-size="4.3" fill="#444">
<text x="1342" y="688.5">Input voltage range</text><text x="1423" y="688.5">85 V AC ... 264 V AC</text>
<text x="1342" y="695.5">Mains buffering</text><text x="1423" y="695.5">&gt; 20 ms (120 V AC)</text><text x="1423" y="701.5">&gt; 20 ms (230 V AC)</text>
<text x="1342" y="711.5">Nominal output voltage (UN)</text><text x="1423" y="711.5">24 V DC ±1 %</text>
<text x="1342" y="719.5">Setting range of the output voltage</text><text x="1342" y="725.5">(USet)</text><text x="1423" y="719.5">24 V DC ... 28 V DC ±1 %</text>
<text x="1342" y="735.5">Nominal output current (IN)</text><text x="1423" y="735.5">6.25 A (-25 °C ... 55 °C)</text>
<text x="1342" y="741.5">Output power (PN)</text><text x="1423" y="741.5">150 W</text>
<text x="1342" y="750.5">Efficiency (for nominal values)</text><text x="1423" y="750.5">typ. 91 % (120 V AC)</text><text x="1423" y="756.5">typ. 94 % (230 V AC)</text>
<text x="1342" y="764.5">Residual ripple</text><text x="1423" y="764.5">&lt; 40 mVPP</text>
<text x="1342" y="773.5">MTBF (IEC 61709, SN 29500)</text><text x="1423" y="773.5">&gt; 868000 h (40 °C)</text>
<text x="1342" y="781.5">Ambient temperature (operation)</text><text x="1423" y="781.5">-25 °C ... 70 °C</text><text x="1423" y="787.5">&gt; 55 °C Derating: 2.5 %/K</text>
<text x="1342" y="795.5">Dimensions W/H/D</text><text x="1423" y="795.5">37 mm / 130 mm / 125 mm</text>
<text x="1342" y="804.5">Weight</text><text x="1423" y="804.5">0.5 kg</text>
</g>

<!-- ================= TITLES ================= -->
<g fill="#d2303c" font-size="9">
<text x="153" y="450" textLength="190" lengthAdjust="spacingAndGlyphs">HYDROCARBON SENSOR WIRING (HC-1/HC-2)</text>
<text x="658" y="450" textLength="238" lengthAdjust="spacingAndGlyphs">SEC 3100 TRANSMITTER CONTROLBOARD (HCT-1/HCT-2)</text>
<text x="1131" y="450" textLength="275" lengthAdjust="spacingAndGlyphs">BAUER CNG 120VAC ESD CONNECTION AND FIELD E-STOP</text>
<text x="124" y="903" textLength="258" lengthAdjust="spacingAndGlyphs">BEACON 200 GAS MONITOR (COT-1) CONTROLBOARD WIRING</text>
<text x="677" y="903" textLength="277" lengthAdjust="spacingAndGlyphs">CARBON MONOXIDE SENSOR WIRING (RKI 65-2335RK) (CO-1/CO-2)</text>
<text x="1166" y="903" textLength="235" lengthAdjust="spacingAndGlyphs">24VDC POWER SUPPLY UNIT (UNO-PS/1AC/24DC/150W)</text>
</g>
<g stroke="#f0b8bd" stroke-width="1">
<line x1="153" y1="454.5" x2="459" y2="454.5"/><line x1="658" y1="454.5" x2="964" y2="454.5"/><line x1="1131" y1="454.5" x2="1439" y2="454.5"/>
<line x1="124" y1="907.5" x2="432" y2="907.5"/><line x1="677" y1="907.5" x2="985" y2="907.5"/><line x1="1166" y1="907.5" x2="1477" y2="907.5"/>
</g>
<g stroke="#d2303c" stroke-width="1" fill="#fff">
<line x1="153" y1="452.5" x2="459" y2="452.5"/><line x1="658" y1="452.5" x2="964" y2="452.5"/><line x1="1131" y1="452.5" x2="1439" y2="452.5"/>
<line x1="124" y1="905.5" x2="432" y2="905.5"/><line x1="677" y1="905.5" x2="985" y2="905.5"/><line x1="1166" y1="905.5" x2="1477" y2="905.5"/>
<circle cx="472" cy="452.5" r="13"/><line x1="459" y1="452.5" x2="485" y2="452.5"/>
<circle cx="977" cy="452.5" r="13"/><line x1="964" y1="452.5" x2="990" y2="452.5"/>
<circle cx="1452" cy="452.5" r="13"/><line x1="1439" y1="452.5" x2="1465" y2="452.5"/>
<circle cx="445" cy="905.5" r="13"/><line x1="432" y1="905.5" x2="458" y2="905.5"/>
<circle cx="998" cy="905.5" r="13"/><line x1="985" y1="905.5" x2="1011" y2="905.5"/>
<circle cx="1490" cy="905.5" r="13"/><line x1="1477" y1="905.5" x2="1503" y2="905.5"/>
</g>
<g fill="#d2303c" font-size="8" text-anchor="middle">
<text x="472" y="450">1</text><text x="472" y="462">-</text>
<text x="977" y="450">2</text><text x="977" y="462">-</text>
<text x="1452" y="450">3</text><text x="1452" y="462">-</text>
<text x="445" y="903">4</text><text x="445" y="915">-</text>
<text x="998" y="903">5</text><text x="998" y="915">-</text>
<text x="1490" y="903">6</text><text x="1490" y="915">-</text>
</g>
</svg>
</body></html>
